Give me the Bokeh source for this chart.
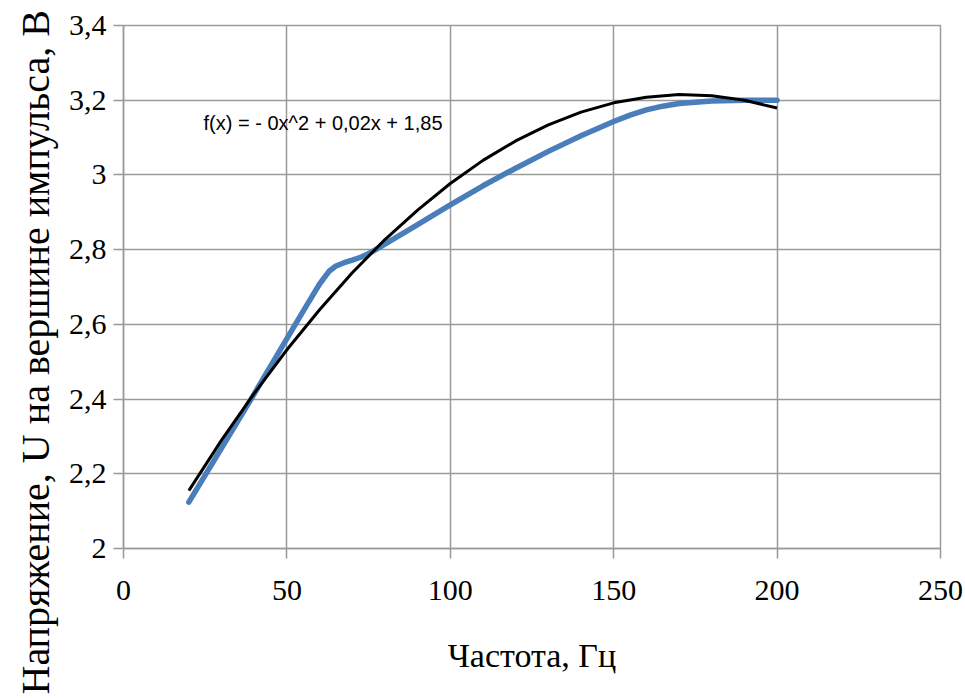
from bokeh.plotting import figure
from bokeh.models import Label, FixedTicker, CustomJSTickFormatter, Range1d, Title
from bokeh.embed import file_html
from bokeh.resources import INLINE

# ---- data ----
FREQ = [20, 30, 40, 50, 56, 60, 63, 65, 67.5, 70, 73, 76, 80, 90, 100, 110, 120, 130, 140,
        150, 155, 160, 165, 170, 180, 190, 200]
VOLT = [2.124, 2.269, 2.414, 2.562, 2.650, 2.708, 2.743, 2.756, 2.765, 2.772, 2.781, 2.794,
        2.815, 2.867, 2.920, 2.971, 3.018, 3.063, 3.105, 3.143, 3.160, 3.174, 3.184, 3.191,
        3.198, 3.200, 3.200]

TREND_X = [20, 30, 40, 50, 60, 70, 80, 90, 100, 110, 120, 130, 140, 150, 160, 170, 180, 190, 200]
TREND_Y = [2.155, 2.290, 2.415, 2.532, 2.639, 2.738, 2.827, 2.906, 2.977, 3.039, 3.091, 3.134, 3.168,
           3.193, 3.208, 3.215, 3.212, 3.200, 3.179]

X_TICKS = [0, 50, 100, 150, 200, 250]
Y_TICKS = [2.0, 2.2, 2.4, 2.6, 2.8, 3.0, 3.2, 3.4]
Y_TICK_LABELS = ["2", "2,2", "2,4", "2,6", "2,8", "3", "3,2", "3,4"]

X_TITLE = "Частота, Гц"
Y_TITLE = "Напряжение, U на вершине импульса, В"
EQUATION = "f(x) =  - 0x^2 + 0,02x + 1,85"

GRID = "#9a9a9a"
SERIF = "Liberation Serif"

p = figure(width=965, height=698, output_backend="svg", toolbar_location=None,
           x_range=Range1d(0, 250), y_range=Range1d(2.0, 3.4),
           min_border_left=123, min_border_right=25, min_border_top=25, min_border_bottom=150)

p.outline_line_color = GRID
p.outline_line_width = 1.5
p.background_fill_color = "white"
p.border_fill_color = "white"

for g in (p.xgrid, p.ygrid):
    g.grid_line_color = GRID
    g.grid_line_width = 1.5
p.xgrid.ticker = FixedTicker(ticks=X_TICKS)
p.ygrid.ticker = FixedTicker(ticks=Y_TICKS)

xa = p.xaxis[0]
ya = p.yaxis[0]
xa.ticker = FixedTicker(ticks=X_TICKS)
ya.ticker = FixedTicker(ticks=Y_TICKS)
ya.formatter = CustomJSTickFormatter(args=dict(tvals=Y_TICKS, tlabels=Y_TICK_LABELS), code="""
const i = tvals.findIndex(t => Math.abs(t - tick) < 1e-6);
return i >= 0 ? tlabels[i] : '';
""")

for ax in (xa, ya):
    ax.axis_line_color = GRID
    ax.axis_line_width = 1.5
    ax.major_tick_line_color = GRID
    ax.major_tick_line_width = 1.5
    ax.major_tick_out = 10
    ax.major_tick_in = 0
    ax.minor_tick_line_color = None
    ax.major_label_text_font = SERIF
    ax.major_label_text_font_size = "30px"
    ax.major_label_text_color = "black"

xa.major_label_standoff = 22
ya.major_label_standoff = 7

xa.axis_label = X_TITLE
xa.axis_label_text_font = SERIF
xa.axis_label_text_font_size = "34px"
xa.axis_label_text_font_style = "normal"
xa.axis_label_text_color = "black"
xa.axis_label_standoff = 34

# vertical axis title, shifted down like the reference
p.add_layout(Title(text=Y_TITLE, align="left", offset=-146, text_font=SERIF,
                   text_font_size="40px", text_font_style="normal", text_color="black",
                   standoff=16), "left")

# series and polynomial trend line
p.line(FREQ, VOLT, line_color="#4a7ebb", line_width=5.5, line_join="round", line_cap="round")
p.line(TREND_X, TREND_Y, line_color="black", line_width=3, line_join="round")

# trend equation
p.add_layout(Label(x=24.5, y=3.138, text=EQUATION, text_font="Liberation Sans",
                   text_font_size="20px", text_color="black", text_baseline="middle",
                   text_align="left"))

open("out.html", "w").write(file_html(p, INLINE))
